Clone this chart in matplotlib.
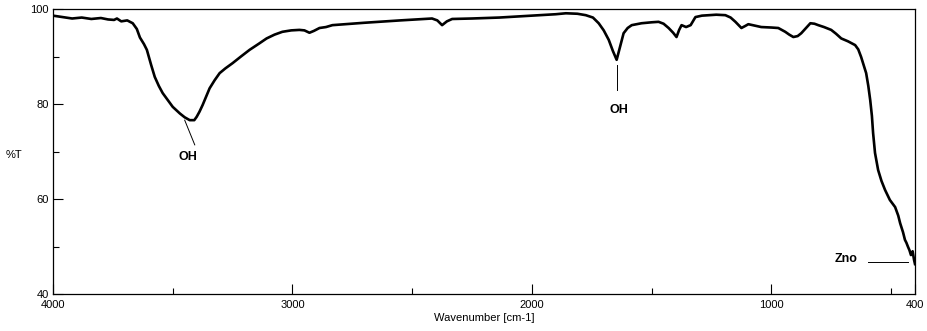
"""
FTIR spectrum of ZnO sample, %T against wavenumber.
"""
import numpy as np
import matplotlib
matplotlib.use("Agg")
import matplotlib.pyplot as plt
from matplotlib.ticker import MultipleLocator, FixedLocator

plt.rcParams["font.family"] = ["Liberation Sans", "DejaVu Sans"]

# spectrum (wavenumber cm-1, %T)
wavenumber = [4000, 3960, 3920, 3880, 3840, 3800, 3770, 3745, 3733, 3715, 3690, 3667,
              3650, 3637, 3620, 3608, 3590, 3575, 3558, 3542, 3520, 3500, 3470, 3450,
              3429, 3410, 3400, 3388, 3375, 3360, 3346, 3325, 3304, 3280, 3250, 3215,
              3179, 3140, 3108, 3075, 3042, 3005, 2971, 2950, 2929, 2910, 2887, 2860,
              2833, 2700, 2550, 2417, 2395, 2375, 2355, 2333, 2250, 2136, 2000, 1900,
              1858, 1810, 1775, 1745, 1721, 1700, 1679, 1662, 1646, 1632, 1617, 1600,
              1583, 1542, 1500, 1471, 1450, 1429, 1410, 1396, 1385, 1375, 1356, 1337,
              1317, 1290, 1262, 1230, 1192, 1170, 1150, 1125, 1110, 1096, 1070, 1042,
              1000, 971, 942, 925, 908, 890, 875, 855, 837, 820, 804, 780, 750, 730,
              708, 680, 650, 637, 625, 615, 604, 595, 587, 580, 575, 567, 554, 540,
              525, 505, 483, 470, 462, 450, 442, 436, 429, 423, 417, 410, 404, 400]
transmittance = [98.6, 98.3, 98.0, 98.2, 97.9, 98.1, 97.8, 97.7, 98.0, 97.4, 97.6, 97.0,
                 95.8, 94.0, 92.6, 91.4, 88.2, 85.7, 83.8, 82.3, 80.8, 79.4, 78.0, 77.2,
                 76.6, 76.6, 77.3, 78.4, 79.8, 81.6, 83.3, 85.0, 86.5, 87.5, 88.6, 90.0,
                 91.4, 92.7, 93.8, 94.6, 95.2, 95.5, 95.6, 95.5, 95.0, 95.4, 96.0, 96.2,
                 96.6, 97.1, 97.6, 98.0, 97.6, 96.6, 97.4, 97.9, 98.0, 98.2, 98.6, 98.9,
                 99.1, 99.0, 98.7, 98.2, 97.0, 95.5, 93.5, 91.2, 89.3, 92.0, 94.9, 96.0,
                 96.6, 97.0, 97.2, 97.3, 96.9, 96.0, 95.0, 94.1, 95.6, 96.6, 96.2, 96.6,
                 98.3, 98.6, 98.7, 98.8, 98.7, 98.2, 97.3, 96.0, 96.4, 96.8, 96.5, 96.2,
                 96.1, 96.0, 95.2, 94.6, 94.1, 94.3, 94.9, 96.0, 97.0, 96.9, 96.6, 96.2,
                 95.6, 94.8, 93.8, 93.2, 92.4, 91.5, 89.9, 88.3, 86.5, 83.8, 80.8, 77.5,
                 73.9, 69.7, 66.1, 63.8, 61.9, 59.8, 58.3, 56.5, 54.9, 53.0, 51.4, 50.8,
                 49.9, 49.2, 48.2, 49.0, 47.2, 46.3]

# annotations: (label, text x, text y, line x0, y0, x1, y1)
annotations = [
    ("OH", 3437, 68.8, 3450, 76.6, 3408, 71.4),
    ("OH", 1637, 78.8, 1646, 88.2, 1646, 82.9),
    ("Zno", 687, 47.4, 596, 46.7, 429, 46.7),
]

fig = plt.figure(figsize=(9.27, 3.31), dpi=100)
ax = fig.add_axes([53 / 927, 1 - 294 / 331, 862 / 927, 285 / 331])

ax.plot(wavenumber, transmittance, color="black", linewidth=1.9, solid_joinstyle="round")

for label, tx, ty, x0, y0, x1, y1 in annotations:
    ax.plot([x0, x1], [y0, y1], color="black", linewidth=0.7)
    ax.text(tx, ty, label, ha="center", va="center", fontsize=9, fontweight="bold")

ax.set_xlim(4000, 400)
ax.set_ylim(40, 100)
ax.xaxis.set_major_locator(FixedLocator([4000, 3000, 2000, 1000, 400]))
ax.xaxis.set_minor_locator(FixedLocator([3500, 2500, 1500, 500]))
ax.yaxis.set_major_locator(MultipleLocator(20))
ax.yaxis.set_minor_locator(MultipleLocator(10))
ax.tick_params(axis="both", which="major", direction="in", length=7, width=0.8,
               labelsize=8)
ax.tick_params(axis="both", which="minor", direction="in", length=4, width=0.8)
ax.tick_params(axis="x", which="major", pad=4.5)
ax.tick_params(axis="y", which="major", pad=3)
# lift the bottom y label a little so it clears "4000"
ax.get_yticklabels()[0].set_verticalalignment("bottom")
for sp in ax.spines.values():
    sp.set_linewidth(0.9)

ax.set_xlabel("Wavenumber [cm-1]", fontsize=8, labelpad=2)
ax.set_ylabel("%T", fontsize=8, rotation=0)
ax.yaxis.set_label_coords(-0.045, 0.47)

fig.savefig("out.png", dpi=100)
